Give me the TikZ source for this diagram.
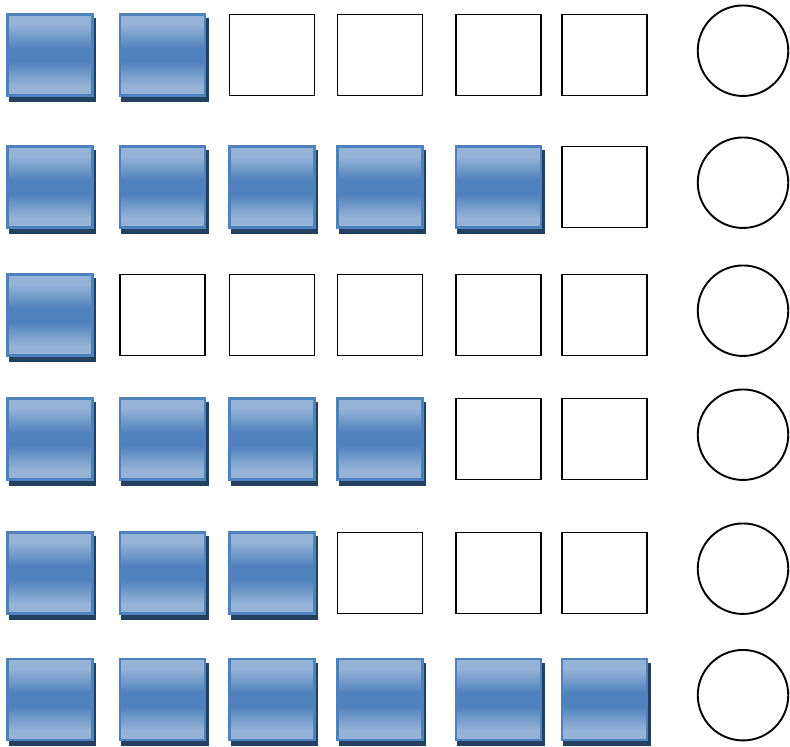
\documentclass[tikz,border=0pt]{standalone}
\usetikzlibrary{shadows}
\definecolor{lb}{RGB}{149,179,215}
\definecolor{db}{RGB}{79,129,189}
\definecolor{bordc}{RGB}{79,129,189}
\definecolor{shadc}{RGB}{36,64,97}
\pgfdeclareverticalshading{bluebar}{100bp}{color(0bp)=(lb); color(25bp)=(lb); color(31bp)=(lb); color(46bp)=(db); color(54bp)=(db); color(69bp)=(lb); color(75bp)=(lb); color(100bp)=(lb)}
\tikzset{
  filled/.style={rectangle, minimum width=85pt, minimum height=81pt, inner sep=0pt, outer sep=0pt,
    draw=bordc, line width=2.5pt, shading=bluebar,
    drop shadow={shadow xshift=2.5pt, shadow yshift=-5pt, fill=shadc, draw=shadc, line width=2.5pt, opacity=1}},
  empty/.style={rectangle, minimum width=85pt, minimum height=81pt, inner sep=0pt, outer sep=0pt,
    draw=black, line width=1.9pt, fill=white},
  ring/.style={circle, minimum size=90.5pt, inner sep=0pt, outer sep=0pt, draw=black, line width=1.9pt}
}
\begin{document}
\begin{tikzpicture}[x=1pt,y=-1pt]
\useasboundingbox (0,0) rectangle (790,747);
\foreach \r/\yy/\n in {1/55/2, 2/187/5, 3/315/1, 4/439/4, 5/573/3, 6/699.5/6}{
  \foreach \c/\xx in {1/50, 2/162.5, 3/272, 4/380, 5/498.5, 6/604.5}{
    \ifnum\c>\n
      \node[empty] (r\r c\c) at (\xx,\yy) {};
    \else
      \node[filled] (r\r c\c) at (\xx,\yy) {};
    \fi
  }
  \node[ring] (o\r) at (743,\yy-4.3) {};
}
\end{tikzpicture}
\end{document}
